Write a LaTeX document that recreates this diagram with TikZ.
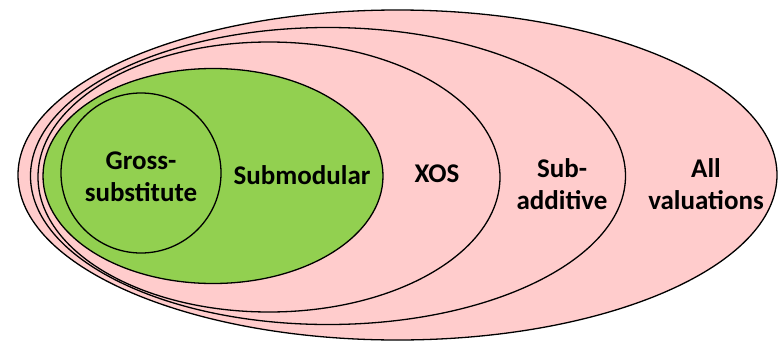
\documentclass[tikz,border=0pt]{standalone}
\usepackage{fontspec}
\setmainfont{Carlito}
\usetikzlibrary{shapes.geometric}
\definecolor{setpink}{HTML}{FFCCCC}
\definecolor{setgreen}{HTML}{92D050}
\begin{document}
\begin{tikzpicture}[x=1pt, y=-1pt]
			\tikzset{setoval/.style={ellipse, draw=black, line width=1.3pt,
						inner sep=0pt, fill=setpink}}
			\tikzset{setlabel/.style={align=center, font=\fontsize{27}{32}\selectfont\bfseries}}

			\useasboundingbox (0,0) rectangle (779,343);

			\node[setoval, minimum width=759pt, minimum height=330pt] (allval) at (397.5,175) {};
			\node[setoval, minimum width=595pt, minimum height=297pt] (subadd) at (328,176) {};
			\node[setoval, minimum width=462pt, minimum height=270pt] (xos) at (269,177) {};
			\node[setoval, fill=setgreen, minimum width=340pt, minimum height=215pt] (submod) at (213,176) {};
			\node[setoval, circle, fill=setgreen, minimum size=160pt] (gross) at (141,173) {};

			\node[setlabel] (grosstxt) at (141,177) {Gross-\\substitute};
			\node[setlabel] (submodtxt) at (302,175) {Submodular};
			\node[setlabel] (xostxt) at (437,174) {XOS};
			\node[setlabel] (subaddtxt) at (562,184) {Sub-\\additive};
			\node[setlabel] (allvaltxt) at (706,184) {All\\valuations};
		\end{tikzpicture}
\end{document}
